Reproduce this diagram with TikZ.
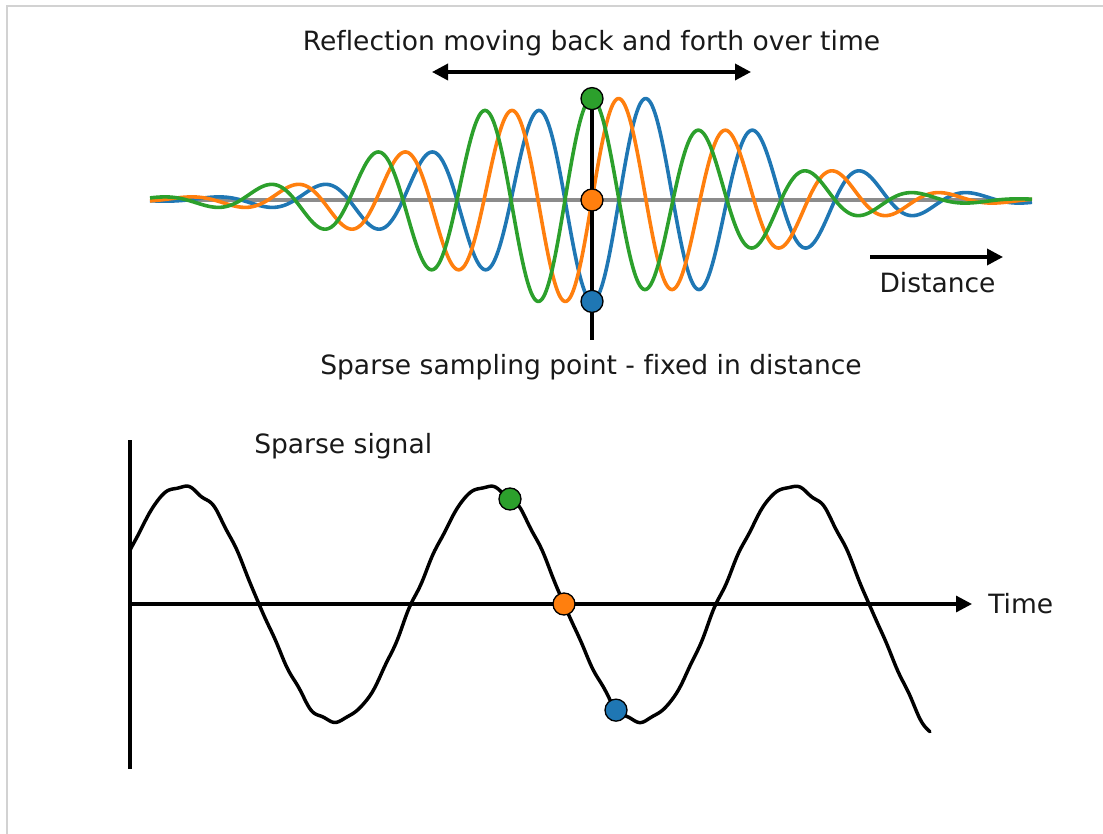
\documentclass[tikz,border=0pt]{standalone}
\usepackage{fontspec}
\setmainfont{DejaVu Sans}[Ligatures=NoCommon]
\usetikzlibrary{arrows.meta}
\definecolor{tabblue}{HTML}{1F77B4}
\definecolor{taborange}{HTML}{FF7F0E}
\definecolor{tabgreen}{HTML}{2CA02C}
\definecolor{framegray}{HTML}{D2D2D2}
\definecolor{zerogray}{HTML}{8C8C8C}
\begin{document}
\begin{tikzpicture}[x=0.75pt,y=-0.75pt,
  declare function={
    env(\p)=103*exp(-0.5*((\p)/152)^2);
    wav(\p,\q)=200-env(\p-\q)*sin((\p-\q)*3.33333);
    sig(\p)=604-118*sin((\p-412)*1.180328)+1.1*sin(13*\p)+1.3*sin(5.9*\p+40)+0.8*sin(16.5*\p)+16*((max(\p,880)-880)/50)^2;
  },
  wave/.style={line width=2.7pt, samples=700, domain=150:1032, line join=round},
  axisline/.style={line width=2.4pt, black},
  dot/.style={circle, draw=black, line width=1pt, minimum size=16.5pt, inner sep=0pt},
  lbl/.style={font=\fontsize{19.9}{24}\selectfont, inner sep=0pt, text=black!90},
  tipr/.style={-{Triangle[length=12pt,width=12pt]}},
  tiplr/.style={{Triangle[length=12pt,width=12pt]}-{Triangle[length=12pt,width=12pt]}},
]
\useasboundingbox (0,0) rectangle (1103,834);
% frame (only top and left edges visible)
\coordinate (fbl) at (7,834);
\coordinate (ftl) at (7,6);
\coordinate (ftr) at (1103,6);
\draw[framegray, line width=2pt] (fbl) -- (ftl) -- (ftr);

% ---------- top panel ----------
\coordinate (za) at (150,200);
\coordinate (zb) at (1032,200);
\draw[zerogray, line width=2.4pt] (za) -- (zb);
\draw[wave, tabblue] plot (\x,{wav(\x,619)});
\draw[wave, taborange] plot (\x,{wav(\x,592)});
\draw[wave, tabgreen] plot (\x,{wav(\x,565)});

\coordinate (vtop) at (592,{wav(592,565)});
\coordinate (vbot) at (592,340);
\draw[axisline] (vtop) -- (vbot);
\node[dot, fill=tabgreen] (gtop) at (vtop) {};
\node[dot, fill=taborange] (otop) at (592,{wav(592,592)}) {};
\node[dot, fill=tabblue] (btop) at (592,{wav(592,619)}) {};

\coordinate (ra) at (432,72);
\coordinate (rb) at (751,72);
\draw[line width=2.6pt, tiplr] (ra) -- (rb);
\node[lbl, anchor=base] (title) at (591.5,51) {Reflection moving back and forth over time};

\coordinate (da) at (870,257);
\coordinate (db) at (1003,257);
\draw[line width=2.6pt, tipr] (da) -- (db);
\node[lbl, anchor=base] (dist) at (937.5,292) {Distance};

\node[lbl, anchor=base] (samp) at (591,374) {Sparse sampling point - fixed in distance};

% ---------- bottom panel ----------
\coordinate (yt) at (130,440);
\coordinate (yb) at (130,769);
\coordinate (o) at (130,604);
\coordinate (xe) at (972,604);
\draw[axisline] (yt) -- (yb);
\draw[axisline, tipr] (o) -- (xe);
\node[lbl, anchor=base west] (time) at (988,613) {Time};
\node[lbl, anchor=base west] (ss) at (254,453) {Sparse signal};

\draw[line width=2.6pt, black, line join=round, line cap=round] plot[domain=130:930, samples=500] (\x,{sig(\x)});

\node[dot, fill=tabgreen] (gb) at (510,{sig(510)}) {};
\node[dot, fill=taborange] (ob) at (564,604) {};
\node[dot, fill=tabblue] (bb) at (616,{sig(616)}) {};
\end{tikzpicture}
\end{document}
